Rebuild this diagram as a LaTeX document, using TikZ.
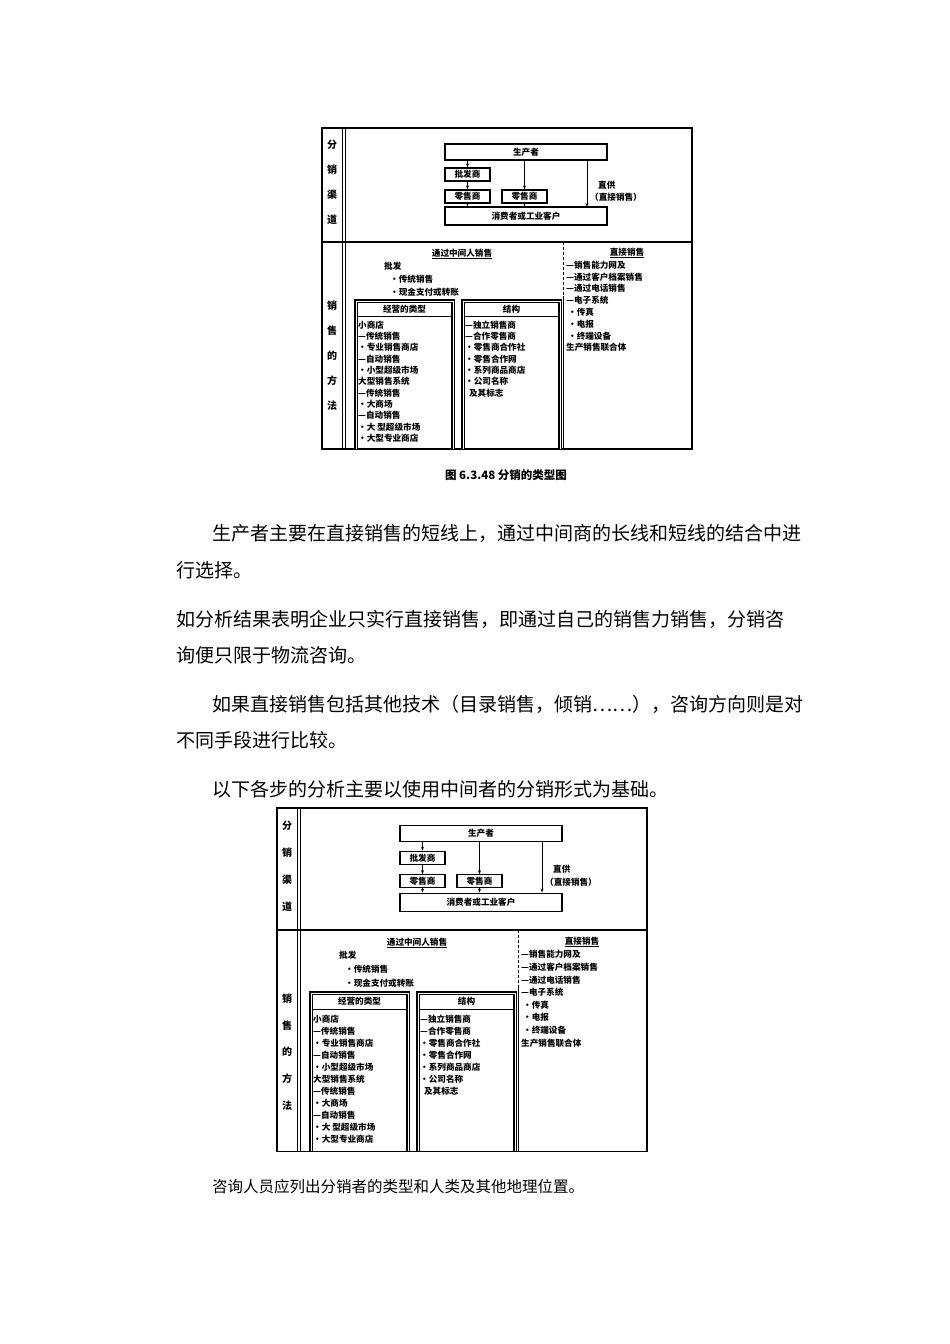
\documentclass[tikz,border=0pt]{standalone}
\usepackage{fontspec}
\usetikzlibrary{arrows.meta}
\newfontfamily\cjk{Noto Sans CJK SC}
\newcommand\cjkb{\cjk\bfseries}
\newcommand\mydiag{%
 \draw[line width=1.6pt] (0,0) rectangle (370,321);
 \draw[line width=0.8pt] (20,0)--(20,321) (23,0)--(23,321);
 \draw[line width=1.4pt] (0,114)--(370,114);
 \foreach \t/\y in {分/17,销/42,渠/67,道/92,销/178,售/203,的/228,方/253,法/278}
   \node[dtxt,font=\cjkb\fontsize{10}{10}\selectfont] at (10,\y) {\t};
 \node[bx,minimum width=162pt,minimum height=16pt] (p) at (204,24) {生产者};
 \node[bx,minimum width=45pt,minimum height=13pt] (w) at (145.5,46.5) {批发商};
 \node[bx,minimum width=45pt,minimum height=13pt] (r1) at (145.5,68.5) {零售商};
 \node[bx,minimum width=45pt,minimum height=13pt] (r2) at (202.5,68.5) {零售商};
 \node[bx,minimum width=162pt,minimum height=18pt] (c) at (204,88) {消费者或工业客户};
 \draw[arr] (p.south -| w) -- (w);
 \draw[arr] (w) -- (r1);
 \draw[arr] (r1) -- (r1 |- c.north);
 \draw[arr] (p.south -| r2) -- (r2);
 \draw[arr] (r2) -- (r2 |- c.north);
 \coordinate (d1) at (265,32); \coordinate (d2) at (265,79);
 \draw[arr] (d1) -- (d2);
 \node[dtxt,anchor=west] (zg) at (276,57) {直供};
 \node[dtxt,anchor=west] (zx) at (268,69) {（直接销售）};
 \draw[line width=0.8pt,densely dashed] (241,114)--(241,168);
 \draw[line width=0.8pt] (241,168)--(241,321);
 \node[dtxt] (h1) at (140,126) {\underline{通过中间人销售}};
 \node[dtxt,anchor=west] at (62,138) {批发};
 \node[dtxt,anchor=west] at (68,151) {・传统销售};
 \node[dtxt,anchor=west] at (68,164) {・现金支付或转账};
 \draw[line width=1.2pt,double,double distance=1pt] (34,321)--(34,173)--(131,173)--(131,321);
 \draw[line width=1.2pt,double,double distance=1pt] (141,321)--(141,173)--(238,173)--(238,321);
 \node[dtxt] at (82.5,181) {经营的类型};
 \node[dtxt] at (189.5,181) {结构};
 \draw[line width=0.8pt] (36,188)--(129,188) (143,188)--(236,188);
 \foreach \t [count=\i from 0] in {小商店,—传统销售,・专业销售商店,—自动销售,・小型超级市场,大型销售系统,—传统销售,・大商场,—自动销售,・大 型超级市场,・大型专业商店}
   \node[dtxt,anchor=west] at (36,197+11.3*\i) {\t};
 \foreach \t [count=\i from 0] in {—独立销售商,—合作零售商,・零售商合作社,・零售合作网,・系列商品商店,・公司名称,\ \ 及其标志}
   \node[dtxt,anchor=west] at (143,197+11.3*\i) {\t};
 \node[dtxt] at (305,125) {\underline{直接销售}};
 \foreach \t [count=\i from 0] in {—销售能力网及,—通过客户档案销售,—通过电话销售,—电子系统,\ ・传真,\ ・电报,\ ・终端设备,生产销售联合体}
   \node[dtxt,anchor=west] at (244,137+11.8*\i) {\t};
}
\begin{document}
\begin{tikzpicture}[x=1pt,y=-1pt,
  dtxt/.style={font=\cjkb\fontsize{8.6}{9}\selectfont,inner sep=0pt},
  bx/.style={draw,line width=1.2pt,font=\cjkb\fontsize{8.6}{9}\selectfont,inner sep=0pt},
  arr/.style={-{Stealth[length=4pt,width=3pt]},line width=0.8pt},
  body/.style={font=\cjk\fontsize{19}{20}\selectfont,anchor=west,inner sep=0pt}]
\useasboundingbox[fill=white] (0,0) rectangle (950,1344);
\begin{scope}[shift={(322,128)}] \mydiag \end{scope}
\node[font=\cjkb\fontsize{11.5}{12}\selectfont] (cap) at (506,475) {图 6.3.48 分销的类型图};
\node[body] (t1) at (212,533) {生产者主要在直接销售的短线上，通过中间商的长线和短线的结合中进};
\node[body] (t2) at (176,570) {行选择。};
\node[body] (t3) at (176,619) {如分析结果表明企业只实行直接销售，即通过自己的销售力销售，分销咨};
\node[body] (t4) at (176,655) {询便只限于物流咨询。};
\node[body] (t5) at (212,704) {如果直接销售包括其他技术（目录销售，倾销……），咨询方向则是对};
\node[body] (t6) at (176,740) {不同手段进行比较。};
\node[body] (t7) at (212,789) {以下各步的分析主要以使用中间者的分销形式为基础。};
\begin{scope}[shift={(277,808)},yscale=1.07] \mydiag \end{scope}
\node[body,font=\cjk\fontsize{15.5}{16}\selectfont] (t8) at (212,1187) {咨询人员应列出分销者的类型和人类及其他地理位置。};
\end{tikzpicture}
\end{document}
